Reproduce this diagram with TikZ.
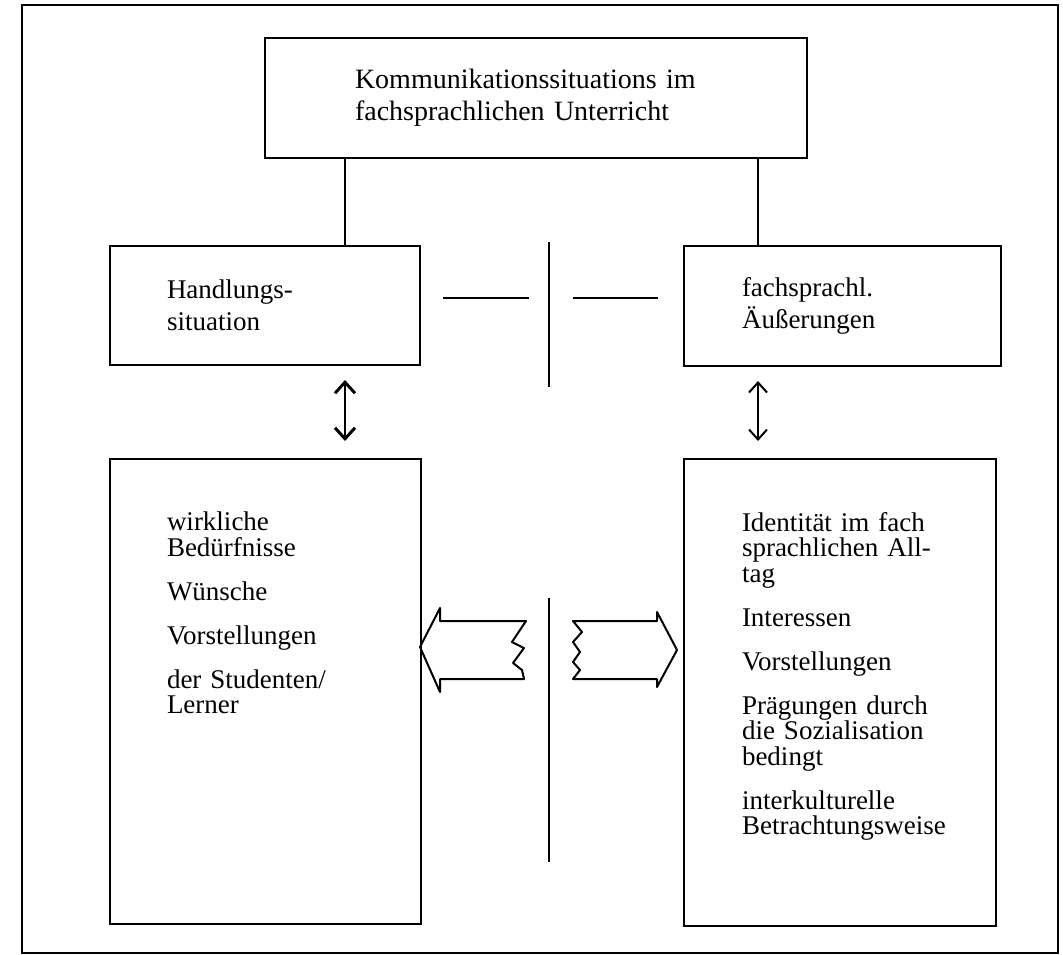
\documentclass[tikz,border=0pt]{standalone}
\usepackage{fontspec}
\setmainfont{Liberation Serif}
\usetikzlibrary{arrows.meta}
\lineskiplimit=-30pt

\tikzset{
  kasten/.style={draw, line width=2pt, anchor=north west, inner sep=0pt, align=left},
  schrift/.style={font=\fontsize{27}{32}\selectfont},
  liste/.style={anchor=north west, inner sep=0pt, text width=245pt, align=left,
    font=\fontsize{27}{25.5}\selectfont},
  pfeil/.style={line width=2pt, line join=round}
}

\begin{document}
\begin{tikzpicture}[x=1pt,y=-1pt,line width=2pt]

\useasboundingbox
(0,0)
rectangle
(1063,954);

% Rahmen
\draw
(22,5)
rectangle
(1058,953);

\node[kasten,font=\fontsize{28}{32}\selectfont,minimum width=542pt,minimum height=120pt,text width=362pt,inner xsep=90pt]
(K)
at (264,37)
{Kommunikationssituations im\\fachsprachlichen Unterricht};

\node[kasten,schrift,minimum width=310pt,minimum height=119pt,text width=196pt,inner xsep=57pt]
(H)
at (109,245)
{Handlungs-\\situation};

\node[kasten,schrift,minimum width=317pt,minimum height=120pt,text width=201pt,inner xsep=58pt]
(F)
at (683,245)
{fachsprachl.\\Äußerungen};

\node[kasten,minimum width=311pt,minimum height=465pt]
(W)
at (109,458)
{};

\node[kasten,minimum width=312pt,minimum height=467pt]
(I)
at (683,458)
{};

\node[liste]
(Wt)
at (166,511)
{wirkliche\\Bedürfnisse\\[18.5pt]Wünsche\\[18.5pt]Vorstellungen\\[18.5pt]der Studenten/\\Lerner};

\node[liste]
(It)
at (741,511)
{Identität im fach\\sprachlichen All-\\tag\\[18.5pt]Interessen\\[18.5pt]Vorstellungen\\[18.5pt]Prägungen durch\\die Sozialisation\\bedingt\\[18.5pt]interkulturelle\\Betrachtungsweise};

% Verbindungen
\coordinate (kl) at (345,0);
\coordinate (kr) at (758,0);
\coordinate (M) at (549,0);

\draw
(K.south -| kl)
--
(H.north -| kl);

\draw
(K.south -| kr)
--
(F.north -| kr);

\draw[line width=2.4pt,{Straight Barb[length=11pt,width=20pt,line width=3pt]}-{Straight Barb[length=11pt,width=20pt,line width=3pt]}]
([yshift=-14pt]H.south -| kl)
--
([yshift=17pt]W.north -| kl);

\draw[{Straight Barb[length=10pt,width=18pt]}-{Straight Barb[length=10pt,width=18pt]}]
([yshift=-14pt]F.south -| kr)
--
([yshift=17pt]I.north -| kr);

% Mittellinien
\draw
([yshift=3pt]H.north -| M)
--
([yshift=-21pt]H.south -| M);

\draw
(549,598)
--
(549,862);

\draw
([xshift=22pt,yshift=8pt]H.east)
--
++(86,0);

\draw
([xshift=-25pt,yshift=8pt]F.west)
--
++(-85,0);

% Blockpfeile
\draw[pfeil]
(420,647) -- (440,608) -- (440,621) -- (526,621) -- (512,642) -- (524,648)
-- (513,663) -- (522,670) -- (524,679) -- (440,679) -- (440,692) -- cycle;

\draw[pfeil]
(573,621) -- (657,621) -- (657,612) -- (677,650) -- (657,687) -- (657,679)
-- (573,679) -- (580,670) -- (573,662) -- (580,652) -- (573,642) -- (582,632) -- cycle;

\end{tikzpicture}
\end{document}
